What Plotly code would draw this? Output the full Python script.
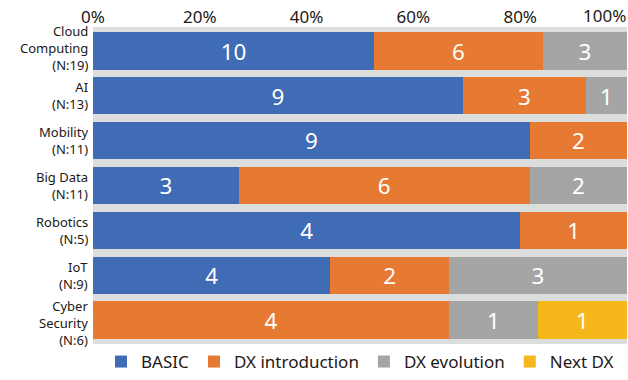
import plotly.graph_objects as go

categories = ["Cloud Computing", "AI", "Mobility", "Big Data", "Robotics", "IoT", "Cyber Security"]
category_labels = ["Cloud<br>Computing<br>(N:19)", "AI<br>(N:13)", "Mobility<br>(N:11)",
                   "Big Data<br>(N:11)", "Robotics<br>(N:5)", "IoT<br>(N:9)",
                   "Cyber<br>Security<br>(N:6)"]
basic = [10, 9, 9, 3, 4, 4, 0]
dx_intro = [6, 3, 2, 6, 1, 2, 4]
dx_evol = [3, 1, 0, 2, 0, 3, 1]
next_dx = [0, 0, 0, 0, 0, 0, 1]
series_names = ["BASIC", "DX introduction", "DX evolution", "Next DX"]
series_values = [basic, dx_intro, dx_evol, next_dx]
colors = ["#3f6cb4", "#e67a33", "#a5a5a5", "#f5b71c"]
x_ticks = [0, 0.2, 0.4, 0.6, 0.8, 1.0]
x_tick_labels = ["0%", "20%", "40%", "60%", "80%", "100%"]

FONT = "Noto Sans, Open Sans, sans-serif"
TXT = "#231815"
fig = go.Figure()
for name, vals, col in zip(series_names, series_values, colors):
    fig.add_trace(go.Bar(
        y=categories, x=vals, orientation="h", name=name,
        marker=dict(color=col, line=dict(width=0)),
        text=[str(v) if v else "" for v in vals],
        textposition="inside", insidetextanchor="middle", textangle=0,
        textfont=dict(color="white", size=23, family=FONT),
        showlegend=False, hoverinfo="skip",
    ))
for name, col in zip(series_names, colors):
    fig.add_trace(go.Scatter(
        x=[None], y=[None], mode="markers", name=name,
        marker=dict(symbol="square", size=18, color=col),
        showlegend=True,
    ))

n_cat = len(categories)
for idx, (cat, label) in enumerate(zip(categories, category_labels)):
    lines = label.count("<br>") + 1
    shift = 0
    if lines == 3 and idx == 0:
        shift = 3
    elif lines == 3 and idx == n_cat - 1:
        shift = -3
    fig.add_annotation(
        x=0, xref="paper", xanchor="right", xshift=-4,
        y=cat, yref="y", yanchor="middle", align="right", yshift=shift,
        text=label, showarrow=False, borderpad=0,
        font=dict(size=13, color=TXT, family=FONT),
    )

# the last tick label sits flush with the right edge (right-anchored so it stays visible)
tick_text_axis = x_tick_labels[:-1] + [""]
fig.add_annotation(
    x=x_ticks[-1], xref="x", xanchor="right", y=1, yref="paper", yanchor="bottom",
    yshift=-1, text=x_tick_labels[-1], showarrow=False, borderpad=0,
    font=dict(size=17, color=TXT, family=FONT),
)

fig.update_layout(
    width=628, height=380,
    barmode="stack", barnorm="fraction", bargap=0.17,
    plot_bgcolor="#dcdddd", paper_bgcolor="white",
    margin=dict(l=93, r=1, t=27, b=28),
    font=dict(family=FONT, color=TXT),
    uniformtext=dict(minsize=10, mode="show"),
    legend=dict(orientation="h", x=0.5, xanchor="center", xref="paper",
                y=0, yref="container", yanchor="bottom",
                traceorder="normal",
                font=dict(size=17, family=FONT, color=TXT),
                itemwidth=30, itemsizing="constant"),
)
fig.update_xaxes(side="top", range=[0, 1], tickvals=x_ticks, ticktext=tick_text_axis,
                 showgrid=False, zeroline=False, showline=False,
                 automargin=False,
                 tickfont=dict(size=17, color=TXT), ticks="")
fig.update_yaxes(autorange="reversed", showgrid=False, zeroline=False, showline=False,
                 showticklabels=False, ticks="", automargin=False)

fig.write_html("out.html")
